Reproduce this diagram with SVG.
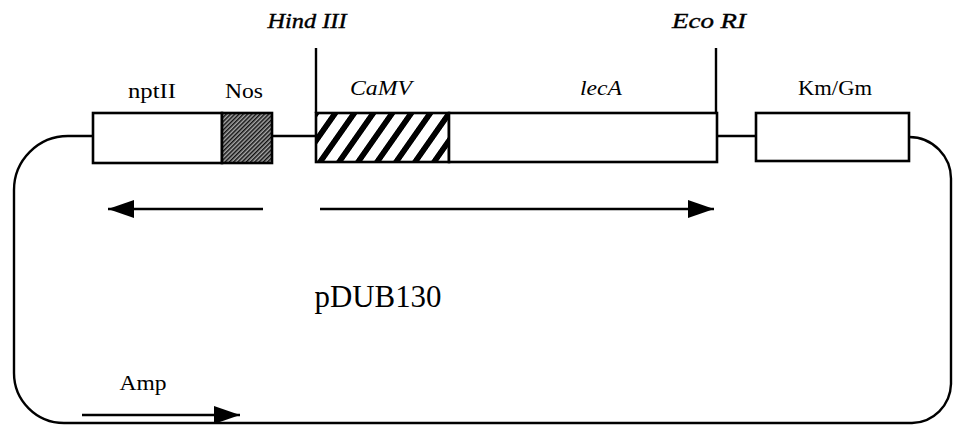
<svg xmlns="http://www.w3.org/2000/svg" width="953" height="425" viewBox="0 0 953 425">
<style>
.box{fill:#fff;stroke:#000;stroke-width:2.6}
.ln{fill:none;stroke:#000;stroke-width:2.4}
.t{font-family:"Liberation Serif","Times New Roman",serif;fill:#000}
.s{font-size:22px}
.i{font-style:italic}
.b{stroke:#000;stroke-width:0.4}
</style>
<defs>
<pattern id="fine" patternUnits="userSpaceOnUse" width="3" height="3" patternTransform="rotate(45)">
<rect width="3" height="3" fill="#aaa"/>
<rect width="1.5" height="3" fill="#111"/>
</pattern>
<pattern id="hatch" patternUnits="userSpaceOnUse" width="19" height="10" patternTransform="translate(316,0) skewX(-35)">
<rect width="19" height="10" fill="#fff"/>
<rect width="7" height="10" fill="#000"/>
</pattern>
<marker id="ah" viewBox="0 0 26 18" refX="26" refY="9" markerWidth="26" markerHeight="18" markerUnits="userSpaceOnUse" orient="auto">
<path d="M0,0 L26,9 L0,18 Z" fill="#000"/>
</marker>
</defs>

<g id="connectors">
<path class="ln" d="M93,136 H68 A54,54 0 0 0 14,190 V373 A50,50 0 0 0 64,423 H912 A40,40 0 0 0 951,384 V180 A42,42 0 0 0 909,137"/>
<line class="ln" x1="272" y1="136" x2="316" y2="136"/>
<line class="ln" x1="717" y1="136" x2="756" y2="136"/>
<line class="ln" x1="316" y1="48" x2="316" y2="113"/>
<line class="ln" x1="716" y1="48" x2="716" y2="113"/>
<line class="ln" x1="263" y1="209" x2="108" y2="209" marker-end="url(#ah)"/>
<line class="ln" x1="320" y1="209" x2="714" y2="209" marker-end="url(#ah)"/>
<line class="ln" x1="82" y1="415" x2="240" y2="415" marker-end="url(#ah)"/>
</g>

<g id="nptII">
<rect class="box" x="93" y="113" width="129" height="50"/>
<text class="t s" x="152" y="98" text-anchor="middle" textLength="48" lengthAdjust="spacingAndGlyphs">nptII</text>
</g>
<g id="Nos">
<rect class="box" x="222" y="113" width="50" height="50" style="fill:url(#fine)"/>
<text class="t s" x="244" y="98" text-anchor="middle" textLength="38" lengthAdjust="spacingAndGlyphs">Nos</text>
</g>
<g id="CaMV">
<rect class="box" x="316" y="113" width="133" height="49" style="fill:url(#hatch)"/>
<text class="t s i" x="381" y="95" text-anchor="middle" textLength="62" lengthAdjust="spacingAndGlyphs">CaMV</text>
</g>
<g id="lecA">
<rect class="box" x="449" y="113" width="268" height="49"/>
<text class="t s i" x="601" y="95" text-anchor="middle" textLength="42" lengthAdjust="spacingAndGlyphs">lecA</text>
</g>
<g id="KmGm">
<rect class="box" x="756" y="113" width="153" height="48"/>
<text class="t s" x="835" y="95" text-anchor="middle" textLength="74" lengthAdjust="spacingAndGlyphs">Km/Gm</text>
</g>
<g id="HindIII">
<text class="t i b" x="307" y="28" text-anchor="middle" style="font-size:22px" textLength="79" lengthAdjust="spacingAndGlyphs">Hind III</text>
</g>
<g id="EcoRI">
<text class="t i b" x="709" y="28" text-anchor="middle" style="font-size:22px" textLength="74" lengthAdjust="spacingAndGlyphs">Eco RI</text>
</g>
<g id="pDUB130">
<text class="t" x="378" y="307" text-anchor="middle" style="font-size:32px" textLength="127" lengthAdjust="spacingAndGlyphs">pDUB130</text>
</g>
<g id="Amp">
<text class="t" x="143" y="390" text-anchor="middle" style="font-size:21px" textLength="47" lengthAdjust="spacingAndGlyphs">Amp</text>
</g>
</svg>
